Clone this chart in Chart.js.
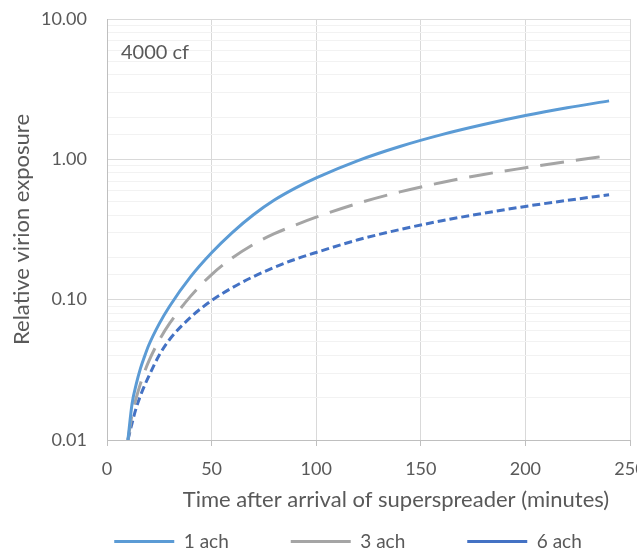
<!DOCTYPE html>
<html>
<head>
<meta charset="utf-8">
<script src="https://cdn.jsdelivr.net/npm/chart.js@4/dist/chart.umd.min.js"></script>
<style>
  html, body { margin: 0; padding: 0; background: #ffffff; }
  #wrap { width: 637px; height: 550px; }
</style>
</head>
<body>
<div id="wrap"><canvas id="c" width="637" height="550"></canvas></div>
<script>
// ---- data ----
const times = [10, 12, 14, 16, 18, 20, 25, 30, 40, 50, 60, 70, 80, 90, 100, 120, 140, 160, 180, 200, 220, 240];
const ach1  = [0.0100, 0.0182, 0.0251, 0.0324, 0.0396, 0.0475, 0.0675, 0.0902, 0.146, 0.216, 0.302, 0.403, 0.513, 0.624, 0.738, 0.980, 1.235, 1.50, 1.77, 2.05, 2.33, 2.61];
const ach3  = [0.0100, 0.0152, 0.0200, 0.0252, 0.0308, 0.0365, 0.0515, 0.0680, 0.106, 0.151, 0.199, 0.248, 0.295, 0.340, 0.387, 0.486, 0.586, 0.684, 0.780, 0.871, 0.966, 1.064];
const ach6  = [0.0100, 0.0132, 0.0170, 0.0207, 0.0245, 0.0285, 0.0403, 0.0522, 0.075, 0.0985, 0.122, 0.146, 0.170, 0.194, 0.217, 0.267, 0.316, 0.365, 0.413, 0.462, 0.510, 0.559];
const seriesLabels = ['1 ach', '3 ach', '6 ach'];
const xTicks = [0, 50, 100, 150, 200, 250];
const yMin = 0.01, yMax = 10;
const annotationText = '4000 cf';
const xTitle = 'Time after arrival of superspreader (minutes)';
const yTitle = 'Relative virion exposure';

const TXT = '#595959';
const FONT = 'Lato';

function isMajor(v) {
  const l = Math.log10(v);
  return Math.abs(l - Math.round(l)) < 1e-6;
}
function pts(arr) { return times.map((t, i) => ({ x: t, y: arr[i] })); }

const helper = {
  id: 'helper',
  afterLayout(chart) {
    const lg = chart.legend;
    if (!lg) return;
    const pad = lg.options.labels.padding;
    const fs = lg.options.labels.font.size;
    const targetTop = 541.5 - fs / 2 - pad;
    lg.top = targetTop;
    lg.bottom = chart.height;
    lg.height = lg.bottom - lg.top;
    lg.left += 33; lg.right += 33;
    lg.width = lg.right - lg.left;
  },
  afterDraw(chart) {
    const ctx = chart.ctx, a = chart.chartArea;
    ctx.save();
    ctx.font = '20px ' + FONT;
    ctx.fillStyle = TXT;
    ctx.textAlign = 'left';
    ctx.textBaseline = 'middle';
    ctx.fillText(annotationText, a.left + 14, a.top + 33.5);
    ctx.restore();
  }
};

new Chart(document.getElementById('c'), {
  type: 'line',
  data: {
    datasets: [
      { label: seriesLabels[0], data: pts(ach1), borderColor: '#5B9BD5', backgroundColor: '#5B9BD5',
        borderWidth: 3, pointRadius: 0, cubicInterpolationMode: 'monotone', fill: false, borderCapStyle: 'butt' },
      { label: seriesLabels[1], data: pts(ach3), borderColor: '#A5A5A5', backgroundColor: '#A5A5A5',
        borderWidth: 3, borderDash: [24, 12], pointRadius: 0, cubicInterpolationMode: 'monotone', fill: false, borderCapStyle: 'butt' },
      { label: seriesLabels[2], data: pts(ach6), borderColor: '#4472C4', backgroundColor: '#4472C4',
        borderWidth: 3, borderDash: [8, 4], pointRadius: 0, cubicInterpolationMode: 'monotone', fill: false, borderCapStyle: 'butt' }
    ]
  },
  options: {
    responsive: false,
    animation: false,
    devicePixelRatio: 1,
    layout: { padding: { top: 19, right: 7, bottom: 0, left: 0 } },
    scales: {
      x: {
        type: 'linear', min: xTicks[0], max: xTicks[xTicks.length - 1],
        afterFit: s => { s.paddingRight = 0; s.paddingLeft = 0; s.height = 83; },
        afterBuildTicks: s => { s.ticks = xTicks.map(v => ({ value: v })); },
        ticks: { autoSkip: false, maxRotation: 0, padding: 12, color: TXT, font: { family: FONT, size: 18 } },
        grid: { color: '#D9D9D9', lineWidth: 1, tickLength: 6, tickColor: '#BFBFBF' },
        border: { color: '#BFBFBF', width: 1 },
        title: { display: true, text: '\u2002\u2002\u2002\u2002\u2002' + xTitle, color: TXT,
                 font: { family: FONT, size: 22 }, padding: { top: 0, bottom: 10 } }
      },
      y: {
        type: 'logarithmic', min: yMin, max: yMax,
        afterFit: s => { s.width = 107; s.paddingTop = 0; s.paddingBottom = 0; },
        ticks: { autoSkip: false, padding: 20, color: TXT, font: { family: FONT, size: 18 },
                 callback: v => isMajor(v) ? Number(v).toFixed(2) : '' },
        grid: { drawTicks: false, lineWidth: 1,
                color: c => (c.tick && isMajor(c.tick.value)) ? '#D9D9D9' : '#F2F2F2' },
        border: { color: '#BFBFBF', width: 1 },
        title: { display: true, text: yTitle, color: TXT,
                 font: { family: FONT, size: 22 }, padding: { top: 9, bottom: 0 } }
      }
    },
    plugins: {
      legend: {
        position: 'bottom',
        maxHeight: 27,
        labels: { usePointStyle: true, pointStyle: 'line', pointStyleWidth: 60, padding: 62,
                  color: TXT, font: { family: FONT, size: 19 } }
      },
      tooltip: { enabled: false }
    }
  },
  plugins: [helper]
});
</script>
</body>
</html>
